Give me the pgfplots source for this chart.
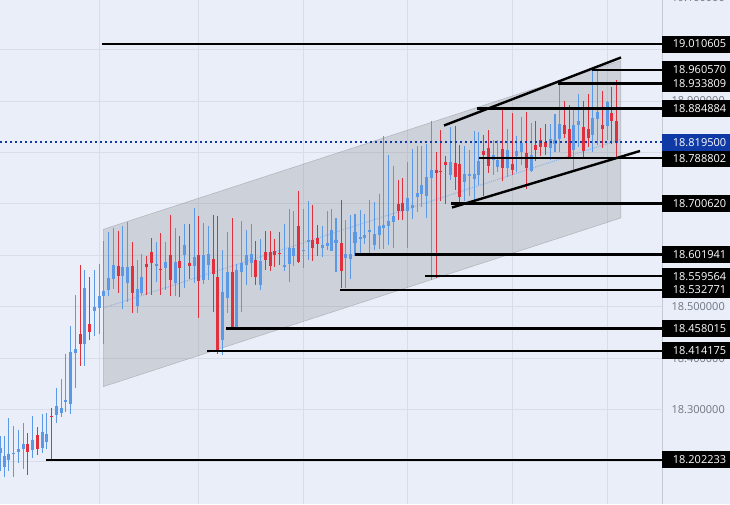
\documentclass[border=0pt]{standalone}
\usepackage{pgfplots}
\usepackage{pgfplotstable}
\usepackage{fontspec}
\setmainfont{Open Sans}
\pgfplotsset{compat=1.18}
\definecolor{bg}{HTML}{E9EEF9}
\definecolor{gridc}{HTML}{D8DDE9}
\definecolor{cblue}{HTML}{5B98E6}
\definecolor{cred}{HTML}{E0303D}
\definecolor{navy}{HTML}{0F3AA5}
\definecolor{tickc}{HTML}{6F7681}
\definecolor{chan}{HTML}{767676}
\pgfplotstableread{
x hi top bot lo
0.3 18.249 18.225 18.215 18.181
4.7 18.249 18.210 18.189 18.170
8.7 18.283 18.214 18.202 18.181
13.3 18.268 18.216 18.214 18.170
18.3 18.260 18.223 18.218 18.196
23.3 18.275 18.233 18.223 18.185
32.3 18.288 18.241 18.222 18.207
42.3 18.291 18.257 18.225 18.215
46.7 18.293 18.253 18.238 18.223
56.3 18.343 18.307 18.290 18.275
61.3 18.360 18.303 18.294 18.286
65.7 18.409 18.319 18.314 18.296
70.7 18.463 18.412 18.311 18.291
75.3 18.523 18.418 18.411 18.342
84.7 18.571 18.536 18.428 18.385
94.3 18.571 18.500 18.492 18.443
99.3 18.583 18.521 18.498 18.447
103.7 18.627 18.531 18.520 18.428
108.3 18.645 18.556 18.533 18.520
113.3 18.653 18.581 18.554 18.535
122.3 18.657 18.578 18.560 18.496
127.3 18.665 18.578 18.547 18.510
137.3 18.591 18.535 18.501 18.487
141.7 18.603 18.558 18.527 18.523
156.3 18.625 18.583 18.579 18.549
165.3 18.626 18.587 18.575 18.533
175.3 18.653 18.587 18.546 18.520
184.3 18.661 18.620 18.601 18.536
194.3 18.692 18.597 18.579 18.546
203.3 18.663 18.601 18.552 18.544
208.3 18.657 18.603 18.581 18.552
222.3 18.610 18.529 18.435 18.407
227.3 18.646 18.568 18.517 18.487
236.7 18.584 18.571 18.457 18.455
241.3 18.667 18.585 18.568 18.490
246.3 18.649 18.601 18.581 18.542
251.3 18.661 18.602 18.585 18.558
260.3 18.632 18.589 18.542 18.533
284.3 18.661 18.581 18.577 18.570
289.3 18.690 18.614 18.583 18.549
293.7 18.686 18.614 18.599 18.579
303.3 18.690 18.610 18.609 18.575
308.3 18.706 18.630 18.626 18.591
322.3 18.657 18.620 18.614 18.597
327.3 18.686 18.624 18.618 18.610
331.3 18.690 18.649 18.608 18.608
336 18.672 18.630 18.624 18.567
345.3 18.669 18.602 18.595 18.536
350.3 18.678 18.602 18.593 18.554
355 18.680 18.645 18.624 18.599
360.3 18.688 18.636 18.632 18.601
364.3 18.680 18.639 18.634 18.622
369.3 18.707 18.649 18.645 18.599
374.7 18.704 18.641 18.620 18.611
379.3 18.720 18.657 18.639 18.612
383.3 18.832 18.659 18.653 18.612
388.3 18.795 18.667 18.657 18.620
393.3 18.774 18.676 18.665 18.614
407.3 18.781 18.711 18.686 18.614
412.3 18.807 18.698 18.692 18.671
417.3 18.812 18.721 18.713 18.684
421.3 18.812 18.737 18.719 18.694
426.3 18.816 18.752 18.715 18.672
431.3 18.861 18.766 18.750 18.552
450.3 18.849 18.781 18.756 18.746
464.3 18.812 18.758 18.742 18.705
469.3 18.805 18.758 18.754 18.715
474.3 18.842 18.758 18.748 18.707
478.3 18.840 18.783 18.756 18.737
493.3 18.824 18.795 18.785 18.756
497.3 18.824 18.785 18.772 18.762
507.3 18.845 18.805 18.770 18.753
516.7 18.832 18.803 18.793 18.762
521.3 18.869 18.818 18.801 18.775
531.3 18.857 18.795 18.764 18.762
550.3 18.855 18.826 18.808 18.785
555 18.875 18.824 18.816 18.801
559.7 18.937 18.855 18.826 18.801
573.3 18.886 18.853 18.805 18.764
578.3 18.913 18.861 18.853 18.811
592.3 18.962 18.867 18.834 18.801
597.3 18.962 18.878 18.865 18.814
607.3 18.900 18.898 18.851 18.824
}\bluecandles
\pgfplotstableread{
x hi top bot lo
27.7 18.254 18.233 18.218 18.173
37.3 18.266 18.251 18.223 18.212
51.3 18.304 18.288 18.286 18.203
80.3 18.581 18.447 18.428 18.385
89.3 18.557 18.466 18.450 18.435
118.3 18.648 18.580 18.560 18.527
132.3 18.625 18.580 18.527 18.487
146.3 18.599 18.583 18.578 18.523
151.3 18.634 18.606 18.586 18.523
160.7 18.643 18.573 18.571 18.523
170.3 18.679 18.601 18.552 18.521
179.3 18.638 18.589 18.575 18.519
189.3 18.661 18.585 18.579 18.554
198.7 18.676 18.601 18.550 18.479
213.3 18.678 18.593 18.564 18.490
217.7 18.676 18.558 18.413 18.409
232.3 18.672 18.568 18.457 18.455
255.7 18.628 18.591 18.558 18.542
265.3 18.647 18.606 18.591 18.571
270.3 18.647 18.606 18.579 18.569
274.3 18.632 18.608 18.601 18.577
279.3 18.645 18.604 18.603 18.581
298.3 18.725 18.657 18.587 18.585
312.3 18.698 18.630 18.614 18.589
317.3 18.659 18.634 18.622 18.599
341.3 18.707 18.624 18.569 18.536
398.3 18.746 18.700 18.686 18.669
402.3 18.750 18.702 18.686 18.669
436.3 18.801 18.766 18.760 18.556
440.7 18.843 18.764 18.762 18.705
445.3 18.793 18.781 18.775 18.700
455.3 18.851 18.779 18.752 18.727
459.3 18.814 18.777 18.713 18.696
483.3 18.834 18.803 18.795 18.715
488.3 18.843 18.808 18.773 18.760
502.7 18.884 18.806 18.770 18.745
512.3 18.876 18.777 18.766 18.756
526.3 18.878 18.799 18.770 18.729
535.7 18.861 18.814 18.805 18.784
540.7 18.847 18.824 18.810 18.793
545.3 18.855 18.820 18.810 18.795
564.3 18.900 18.853 18.836 18.828
569.3 18.892 18.845 18.791 18.790
583.3 18.900 18.849 18.803 18.790
588.3 18.913 18.845 18.828 18.810
602.3 18.919 18.853 18.845 18.808
611.7 18.927 18.876 18.861 18.816
616.7 18.941 18.861 18.818 18.788
}\redcandles
\newcommand{\level}[2]{\addplot[black,line width=2.4pt,forget plot] coordinates {(#1,#2) (662,#2)};}
\newcommand{\plabel}[2][black]{\node[fill=#1,text=white,anchor=west,inner xsep=0pt,inner ysep=0pt,minimum height=17pt,text width=68pt,align=left,font=\fontsize{11}{12}\selectfont] at (axis cs:662,#2) {\hspace*{10.7pt}#2};}
\pgfplotsset{wick/.style={draw=none,mark=none,forget plot,error bars/.cd,y dir=minus,y explicit,error mark=none,error bar style={line width=1.5pt,draw=#1,solid}},
body/.style={draw=none,mark=none,forget plot,error bars/.cd,y dir=minus,y explicit,error mark=none,error bar style={line width=3.5pt,draw=#1,solid}}}
\begin{document}
\begin{tikzpicture}[x=1pt,y=1pt]
\clip (0,0) rectangle (730,504);
\fill[bg] (0,0) rectangle (730,504);
\begin{axis}[
  scale only axis, width=662pt, height=506pt,
  at={(0,0)}, anchor=south west,
  xmin=0, xmax=662, ymin=18.1167, ymax=19.1,
  clip=false,
  axis line style={draw=none},
  tick style={draw=none},
  xtick={99.3,198.7,303,407.3,512,607},
  xticklabels={},
  ytick={18.2,18.3,18.4,18.5,18.6,18.7,18.8,18.9,19.0,19.1},
  yticklabel pos=right,
  grid=major,
  grid style={gridc,line width=0.7pt},
  yticklabel style={/pgf/number format/fixed,/pgf/number format/fixed zerofill,/pgf/number format/precision=6,/pgf/number format/assume math mode=true,/pgf/number format/1000 sep={},font=\fontsize{11}{12}\selectfont,text=tickc,anchor=west,xshift=6pt},
]
% channel
\addplot[fill=chan,fill opacity=0.24,draw=chan,draw opacity=0.35,line width=0.6pt,forget plot] coordinates {(103.3,18.6505) (620.7,18.9783) (620.7,18.6725) (103.3,18.3447)} -- cycle;
\addplot[cblue!60!gridc,densely dotted,line width=1pt,forget plot] coordinates {(103.3,18.4976) (620.7,18.8254)};
% blue candles
\addplot[wick=cblue] table[x=x,y=hi,y error minus expr=\thisrow{hi}-\thisrow{lo}] {\bluecandles};
\addplot[body=cblue] table[x=x,y=top,y error minus expr=\thisrow{top}-\thisrow{bot}] {\bluecandles};
% red candles
\addplot[wick=cred] table[x=x,y=hi,y error minus expr=\thisrow{hi}-\thisrow{lo}] {\redcandles};
\addplot[body=cred] table[x=x,y=top,y error minus expr=\thisrow{top}-\thisrow{bot}] {\redcandles};
% levels
\level{102}{19.010605}
\level{592}{18.960570}
\level{558}{18.933809}
\level{477}{18.884884}
\level{479}{18.788802}
\level{451}{18.700620}
\level{355}{18.601941}
\level{425}{18.559564}
\level{340}{18.532771}
\level{226}{18.458015}
\level{207}{18.414175}
\level{46}{18.202233}
% trend lines
\addplot[black,line width=2.4pt,forget plot] coordinates {(444,18.8522) (621,18.9844)};
\addplot[black,line width=2.4pt,forget plot] coordinates {(452,18.6929) (640,18.8027)};
% last price line
\addplot[navy,line width=2pt,dash pattern=on 2pt off 3pt,forget plot] coordinates {(0,18.8195) (662,18.8195)};
% price scale border
\draw[gridc!80!gray,line width=0.8pt] (axis cs:662,18.1167) -- (axis cs:662,19.1);
% labels
\plabel{19.010605}
\plabel{18.960570}
\plabel{18.933809}
\plabel{18.884884}
\plabel{18.788802}
\plabel{18.700620}
\plabel{18.601941}
\plabel{18.559564}
\plabel{18.532771}
\plabel{18.458015}
\plabel{18.414175}
\plabel{18.202233}
\plabel[navy]{18.819500}
\end{axis}
\end{tikzpicture}
\end{document}
